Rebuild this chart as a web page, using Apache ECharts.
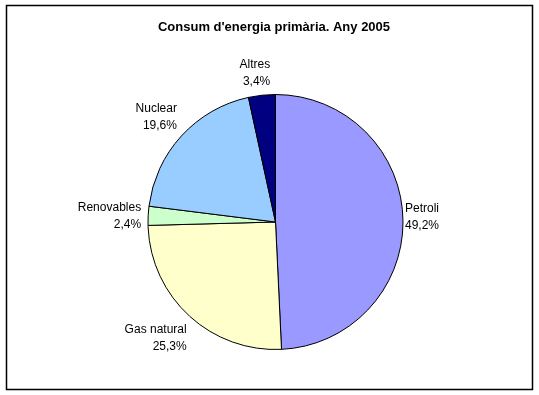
<!DOCTYPE html>
<html><head><meta charset="utf-8">
<script src="https://cdn.jsdelivr.net/npm/echarts@6/dist/echarts.min.js"></script>
<style>html,body{margin:0;padding:0;background:#fff}#c{width:539px;height:395px}</style>
</head><body><div id="c"></div>
<script>
const titleText = "Consum d'energia primària. Any 2005";
const categories = ["Petroli", "Gas natural", "Renovables", "Nuclear", "Altres"];
const values = [49.2, 25.3, 2.4, 19.6, 3.4];
const colors = ["#9999FF", "#FFFFCC", "#CCFFCC", "#99CCFF", "#000080"];
// label nudges (styling only)
const labelShift = [[-9, -2], [7, 18], [4, 1], [5, -15], [14, -16]];

const chart = echarts.init(document.getElementById('c'));
chart.setOption({
  animation: false,
  title: {
    text: titleText, left: 269, top: 16, textAlign: 'center',
    textStyle: { fontFamily: 'Liberation Sans', fontSize: 13, fontWeight: 'bold', color: '#000' }
  },
  graphic: [{
    type: 'rect', shape: { x: 6.5, y: 5.5, width: 526, height: 384 },
    style: { fill: 'none', stroke: '#000', lineWidth: 1.5 }, z: -1
  }],
  series: [{
    type: 'pie',
    center: [275.5, 222],
    radius: [0, 127.5],
    startAngle: 90,
    clockwise: true,
    avoidLabelOverlap: false,
    data: categories.map((n, i) => ({ name: n, value: values[i], itemStyle: { color: colors[i] } })),
    itemStyle: { borderColor: '#000', borderWidth: 1 },
    label: {
      show: true, position: 'outside',
      formatter: p => p.name + '\n' + String(p.value).replace('.', ',') + '%',
      fontFamily: 'Liberation Sans', fontSize: 12, color: '#000', lineHeight: 17, align: 'center'
    },
    labelLine: { show: false, length: 6, length2: 0 },
    labelLayout: p => ({ dx: labelShift[p.dataIndex][0], dy: labelShift[p.dataIndex][1] }),
    emphasis: { disabled: true }
  }]
});
</script></body></html>
